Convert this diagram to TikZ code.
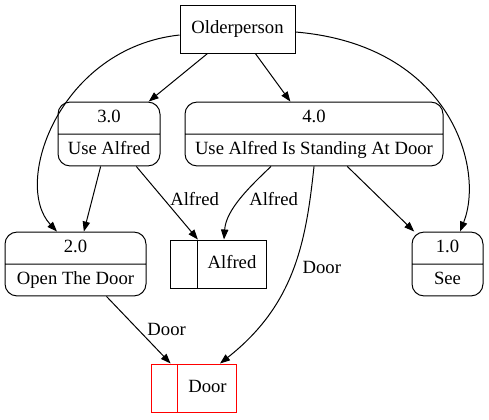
\documentclass[tikz,border=0pt]{standalone}
\usepackage{fontspec}
\setmainfont{Liberation Serif}
\usetikzlibrary{shapes.multipart,arrows.meta,calc}

\tikzset{
  proc/.style={draw, rectangle split, rectangle split parts=2, rounded corners=9pt,
    align=flush center, text width=#1, inner xsep=3pt, inner ysep=3.2pt},
  store/.style={draw, rectangle split, rectangle split horizontal, rectangle split parts=2,
    inner xsep=7.6pt, inner ysep=9.6pt},
  flow/.style={-{Triangle[length=7.5pt,width=5.5pt]}},
}

\begin{document}
\begin{tikzpicture}[x=0.75pt,y=-0.75pt,line width=.75pt,font=\fontsize{14}{16.8}\selectfont]
  \useasboundingbox (0,0) rectangle (489,419);

  \node[draw,minimum width=86.25pt,minimum height=36pt] (older) at (237.5,29) {Olderperson};
  \node[proc=70.5pt] (p3) at (109,134) {\strut 3.0\nodepart{two}\strut Use Alfred};
  \node[proc=187.5pt] (p4) at (314,134) {\strut 4.0\nodepart{two}\strut Use Alfred Is Standing At Door};
  \node[proc=99.75pt] (p2) at (75.5,264) {\strut 2.0\nodepart{two}\strut Open The Door};
  \node[store] (alfred) at (218.5,264) {\rule{4.3pt}{0pt}\strut\nodepart{two}\strut Alfred};
  \node[proc=47.25pt] (p1) at (447.5,264) {\strut 1.0\nodepart{two}\strut See};
  \node[store,draw=red] (door) at (194,388) {\rule{4.3pt}{0pt}\strut\nodepart{two}\strut Door};

  \draw[flow] (older) -- (p3);
  \draw[flow] (older) -- (p4);
  \draw[flow] ($(older.west)+(0,6)$) .. controls +(-120,13) and +(-45,-48) .. ($(p2.north)+(-18.5,0)$);
  \draw[flow] ($(older.east)+(0,3)$) .. controls +(155,13) and +(25,-63) .. ($(p1.north)+(12.5,0)$);
  \draw[flow] (p3) -- (p2);
  \draw[flow] (p3) -- node[right=1pt,pos=.45] {Alfred} (alfred);
  \draw[flow] ($(p4.south)+(-43,0)$) .. controls +(-21,20) and +(2,-30) .. node[right=3pt,pos=.5] {Alfred} ($(alfred.north)+(5.5,0)$);
  \draw[flow] (p4.south) .. controls +(-8,75) and +(75,-59) .. node[right=3pt,pos=.48] {Door} ($(door.north)+(26,0)$);
  \draw[flow] (p4) -- (p1);
  \draw[flow] (p2) -- node[right=3pt,pos=.5] {Door} (door);
\end{tikzpicture}
\end{document}
